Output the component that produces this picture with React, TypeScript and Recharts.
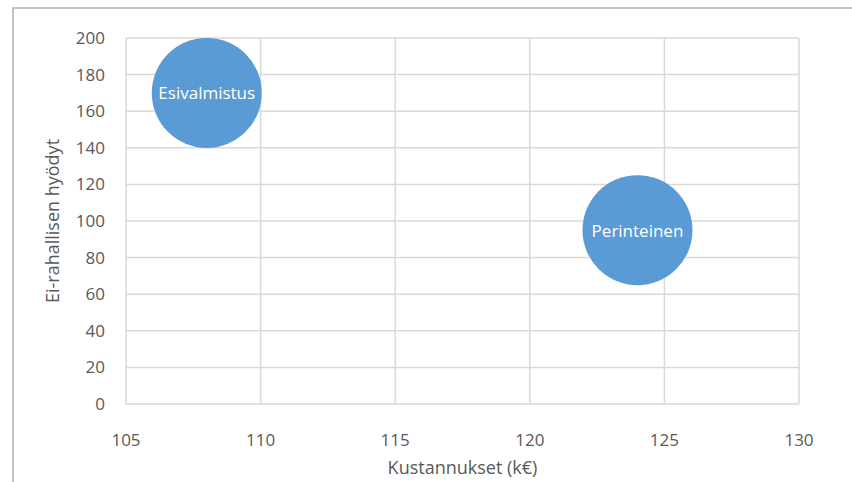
import React from "react";
import {
  ScatterChart,
  Scatter,
  XAxis,
  YAxis,
  ZAxis,
  CartesianGrid,
  Label,
} from "recharts";

const NAMES = ["Esivalmistus", "Perinteinen"];
const COSTS = [108, 124];
const BENEFITS = [170, 95];
const SIZES = [1, 1];

const X_TICKS = [105, 110, 115, 120, 125, 130];
const Y_TICKS = [0, 20, 40, 60, 80, 100, 120, 140, 160, 180, 200];

const data = NAMES.map((name, i) => ({
  name,
  x: COSTS[i],
  y: BENEFITS[i],
  z: SIZES[i],
}));

const FONT = "'Open Sans', sans-serif";
const TEXT = "#595959";

const Bubble = (props: any) => {
  const { cx, cy, size, width, payload } = props;
  const r = size ? Math.sqrt(size / Math.PI) : width / 2;
  return (
    <g>
      <circle cx={cx} cy={cy} r={r} fill="#5b9bd5" />
      <text
        x={cx}
        y={cy}
        textAnchor="middle"
        dominantBaseline="central"
        fill="#ffffff"
        fontSize={17}
        fontFamily={FONT}
      >
        {payload.name}
      </text>
    </g>
  );
};

export default function App() {
  return (
    <div
      style={{
        position: "absolute",
        left: 0,
        top: 0,
        width: 852,
        height: 482,
        background: "#fff",
        overflow: "hidden",
      }}
    >
      <div
        style={{
          position: "absolute",
          left: 12,
          top: 7,
          right: -4,
          bottom: -4,
          borderLeft: "2px solid #c4c4c4",
          borderTop: "2px solid #c4c4c4",
        }}
      />
      <ScatterChart
        width={852}
        height={482}
        margin={{ top: 38, right: 53, bottom: 0, left: 20 }}
        style={{ position: "absolute", left: 0, top: 0 }}
      >
        <CartesianGrid stroke="#d9d9d9" strokeWidth={1.5} />
        <XAxis
          type="number"
          dataKey="x"
          domain={[105, 130]}
          ticks={X_TICKS}
          height={78}
          axisLine={false}
          tickLine={false}
          tickMargin={24}
          tick={{ fill: TEXT, fontSize: 17, fontFamily: FONT }}
        >
          <Label
            value="Kustannukset (k€)"
            position="insideBottom"
            offset={8}
            fill={TEXT}
            fontSize={18}
            fontFamily={FONT}
          />
        </XAxis>
        <YAxis
          type="number"
          dataKey="y"
          domain={[0, 200]}
          ticks={Y_TICKS}
          width={106}
          axisLine={false}
          tickLine={false}
          tickMargin={15}
          tick={{ fill: TEXT, fontSize: 17, fontFamily: FONT }}
        >
          <Label
            value="Ei-rahallisen hyödyt"
            angle={-90}
            position="center"
            dx={-20}
            fill={TEXT}
            fontSize={18}
            fontFamily={FONT}
          />
        </YAxis>
        <ZAxis type="number" dataKey="z" range={[9500, 9500]} />
        <Scatter data={data} shape={<Bubble />} isAnimationActive={false} />
      </ScatterChart>
    </div>
  );
}
